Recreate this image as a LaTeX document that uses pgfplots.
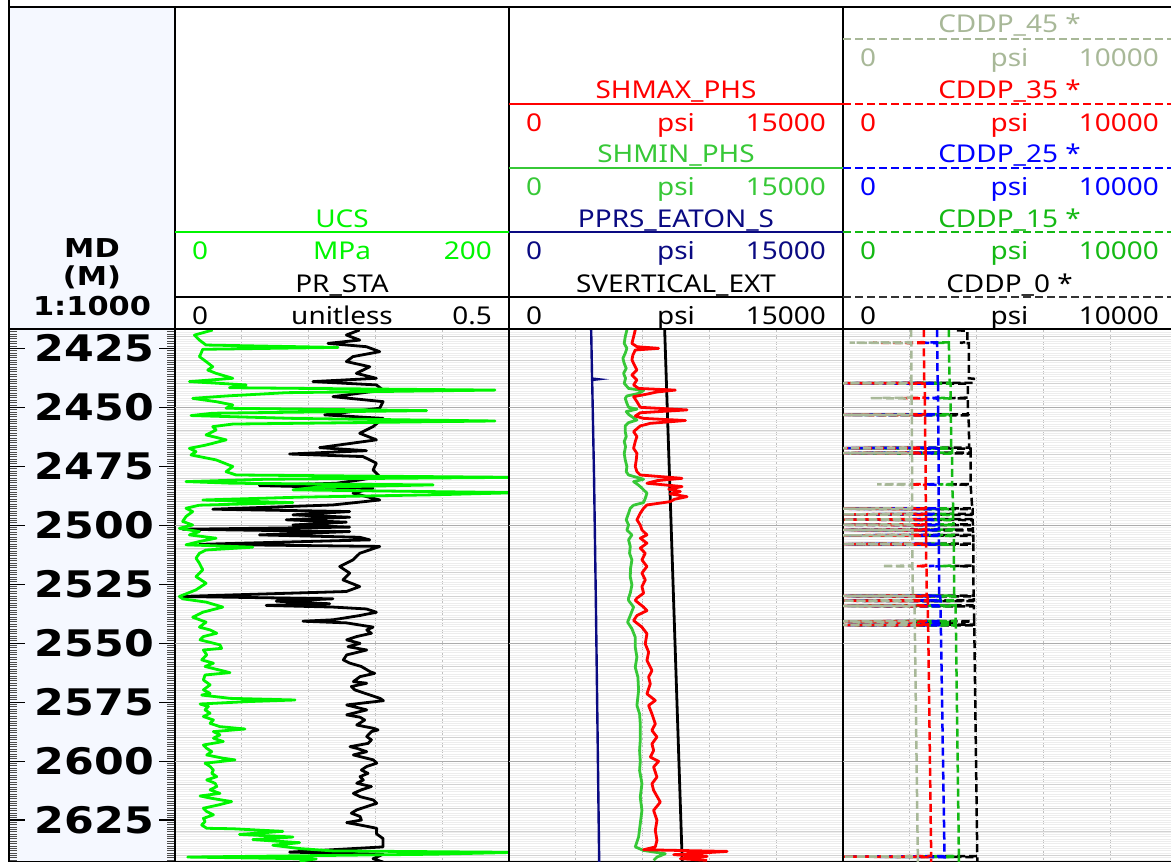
\documentclass[border=0pt]{standalone}
\usepackage{pgfplots}
\pgfplotsset{compat=1.18}
\usepackage{pgfplotstable}
\usepackage{fontspec}
\setmainfont{Noto Sans}[FakeStretch=1.14]
\newfontfamily\depfont{DejaVu Sans}[FakeStretch=1.17]
\definecolor{ucsgreen}{RGB}{0,245,0}
\definecolor{shmingreen}{RGB}{55,200,55}
\definecolor{cddpgreen}{RGB}{20,185,20}
\definecolor{sage}{RGB}{168,184,152}
\definecolor{navyc}{RGB}{10,10,130}
\definecolor{depthbg}{RGB}{245,248,255}
\newcommand\hfont{\fontsize{24.5}{28}\selectfont}

\pgfplotstableread{
d v
2417.2 0.2765
2419.35 0.2565
2421.5 0.2765
2422.9 0.229
2424.3 0.2865
2426.4 0.3065
2428.5 0.2665
2430.6 0.2565
2432.8 0.2915
2435.6 0.2715
2437.7 0.3015
2439.1 0.2065
2440.5 0.3015
2442.7 0.3115
2445.5 0.2365
2447.6 0.3115
2450.4 0.3065
2453.2 0.224
2454.7 0.3115
2458.2 0.2965
2461.0 0.2765
2463.8 0.3015
2467.1 0.2165
2468.4 0.2865
2469.8 0.1715
2470.9 0.2815
2473.7 0.3015
2476.6 0.2965
2479.4 0.3065
2480.8 0.2765
2482.2 0.2415
2483.2 0.1265
2484.3 0.2965
2486.4 0.2665
2489.3 0.3065
2491.4 0.2365
2493.2 0.0565
2494.2 0.2615
2495.6 0.1765
2496.6 0.2615
2497.7 0.1665
2498.7 0.2565
2499.9 0.1765
2500.8 0.2615
2501.7 0.0115
2502.7 0.2615
2504.1 0.1265
2505.1 0.2765
2506.2 0.2915
2508.1 0.0365
2509.0 0.3065
2511.9 0.2765
2514.7 0.2665
2517.5 0.2465
2520.3 0.2615
2523.2 0.2515
2526.0 0.2765
2528.1 0.2565
2530.2 0.009
2531.2 0.2365
2532.2 0.1515
2533.3 0.2315
2534.0 0.1365
2534.7 0.2365
2535.5 0.2865
2536.9 0.3015
2538.3 0.2765
2540.1 0.2365
2540.7 0.1915
2541.4 0.2565
2543.2 0.2965
2544.4 0.287
2545.8 0.294
2547.2 0.272
2548.6 0.257
2550.1 0.277
2551.5 0.259
2552.9 0.287
2555.0 0.257
2557.1 0.252
2558.5 0.262
2559.9 0.279
2562.1 0.292
2562.8 0.299
2564.2 0.277
2566.3 0.267
2567.0 0.287
2568.4 0.264
2569.8 0.269
2572.0 0.292
2573.4 0.307
2574.4 0.312
2575.2 0.287
2576.2 0.257
2576.9 0.267
2578.3 0.287
2579.7 0.267
2580.4 0.257
2581.4 0.277
2582.6 0.284
2584.7 0.272
2586.1 0.297
2586.8 0.304
2587.5 0.294
2589.6 0.287
2591.0 0.294
2592.5 0.289
2593.9 0.262
2594.6 0.272
2596.0 0.287
2597.4 0.267
2598.1 0.277
2599.5 0.297
2600.9 0.302
2602.3 0.287
2603.8 0.279
2605.2 0.289
2606.6 0.277
2608.0 0.282
2609.4 0.272
2610.8 0.294
2612.2 0.279
2613.7 0.267
2615.1 0.277
2616.5 0.297
2617.9 0.302
2619.3 0.287
2620.7 0.272
2622.1 0.264
2623.5 0.277
2625.0 0.279
2626.1 0.257
2627.1 0.277
2628.5 0.302
2630.8 0.3015
2632.9 0.3115
2636.4 0.3115
2638.6 0.1715
2639.5 0.3115
2641.4 0.2965
2642.8 0.3115
}\prtable

\pgfplotstableread{
d v
2417.2 22.6
2419.4 11.6
2421.5 14.6
2423.6 18.6
2424.6 97.6
2425.4 16.6
2427.1 15.6
2428.5 14.6
2430.6 18.6
2432.8 22.6
2434.2 19.6
2435.6 24.6
2437.7 34.6
2439.1 8.6
2440.5 42.6
2441.7 32.6
2442.7 191.6
2443.8 66.6
2445.2 30.6
2446.2 10.6
2447.6 24.6
2449.0 34.6
2450.4 30.6
2451.4 150.6
2452.5 22.6
2453.5 9.6
2454.7 70.6
2455.8 191.6
2457.1 34.6
2458.2 22.6
2459.6 24.6
2461.7 18.6
2463.8 30.6
2466.0 18.6
2467.4 8.6
2468.8 12.6
2470.2 9.6
2472.3 24.6
2475.1 34.6
2477.3 30.6
2478.7 36.6
2479.7 205
2480.5 54.6
2481.5 6.6
2482.2 34.6
2482.9 154.6
2483.9 84.6
2485.0 70.6
2486.2 205
2487.1 154.6
2488.1 74.6
2489.3 16.6
2490.4 70.6
2491.5 14.6
2492.8 6.6
2494.2 10.6
2496.3 6.6
2498.4 4.6
2499.9 10.6
2501.3 2.6
2502.7 14.6
2504.1 8.6
2505.5 24.6
2506.9 14.6
2508.3 6.6
2509.3 46.6
2510.5 18.6
2511.9 14.6
2514.0 12.6
2516.1 14.6
2518.9 16.6
2521.8 12.6
2524.6 18.6
2527.4 12.6
2529.1 6.6
2530.2 2.6
2531.2 4.6
2532.6 18.6
2534.7 28.6
2536.9 16.6
2539.0 10.6
2541.1 18.6
2543.2 14.6
2544.4 21.0
2545.8 25.0
2547.2 17.0
2548.6 15.0
2550.7 26.9
2552.2 27.9
2552.9 17.0
2555.0 19.0
2557.1 16.0
2558.5 23.0
2559.9 18.0
2562.5 32.9
2563.5 18.0
2565.6 17.0
2567.7 21.0
2569.8 17.0
2571.3 21.0
2572.0 16.0
2573.4 32.9
2574.1 71.9
2574.8 42.9
2575.8 15.0
2576.9 20.0
2578.3 18.0
2579.7 21.0
2581.1 17.0
2582.6 23.0
2584.0 21.0
2585.4 26.9
2586.4 41.9
2587.5 23.0
2588.9 26.9
2590.3 23.0
2591.7 28.9
2593.2 17.0
2594.6 19.0
2596.0 22.0
2597.4 19.0
2598.8 28.9
2599.5 35.9
2600.9 18.0
2602.3 21.0
2603.8 23.0
2605.2 22.0
2606.6 25.0
2608.0 19.0
2609.4 24.0
2610.8 25.0
2612.2 21.0
2613.7 26.9
2614.8 15.0
2615.8 22.0
2617.2 33.9
2618.6 26.0
2620.0 17.0
2621.4 19.0
2622.8 23.0
2624.3 17.0
2625.7 18.0
2627.1 16.0
2628.5 19.0
2628.7 34.6
2629.8 64.6
2631.1 38.6
2632.2 70.6
2633.3 46.6
2634.6 74.6
2635.7 58.6
2637.1 74.6
2638.1 94.6
2638.7 205
2639.5 154.6
2640.7 7.6
2641.5 84.6
2642.4 74.6
}\ucstable

\pgfplotstableread{
d v
2416.8 3690
2437.8 3730
2438.1 4010
2438.4 3735
2480.0 3820
2531.6 3900
2590.0 3980
2642.8 4050
}\pprstable

\pgfplotstableread{
d v
2416.8 6990
2642.8 7780
}\svtable

\pgfplotstableread{
d v
2417.2 5295
2420.1 5220
2422.9 5175
2425.0 5295
2427.1 5220
2429.2 5115
2431.4 5175
2433.5 5265
2435.6 5145
2437.7 5235
2439.8 5175
2442.0 5370
2442.9 6045
2444.1 5820
2445.2 5295
2446.2 5220
2448.3 5295
2450.0 5370
2450.8 5745
2451.8 5265
2453.0 5370
2454.0 5520
2455.4 5745
2456.5 5370
2457.9 5220
2460.3 5220
2462.4 5265
2464.5 5175
2466.7 5235
2469.5 5175
2472.3 5220
2475.1 5295
2477.3 5265
2478.7 5370
2480.5 6045
2481.5 5595
2482.5 5745
2483.6 5895
2485.0 6045
2486.4 6195
2488.6 6120
2490.4 6045
2491.5 5595
2492.8 5445
2494.9 5370
2497.7 5265
2499.9 5370
2502.0 5295
2504.1 5520
2506.2 5370
2509.0 5445
2511.9 5415
2514.7 5520
2518.2 5460
2521.8 5445
2525.3 5520
2528.8 5445
2530.9 5370
2531.9 5370
2534.7 5595
2538.3 5445
2541.1 5325
2543.9 5520
2547.5 5670
2551.7 5670
2555.9 5745
2560.2 5670
2564.4 5790
2570.1 5820
2576.4 5745
2580.0 5865
2584.2 5895
2591.2 5895
2595.5 5865
2600.1 5895
2604.0 5865
2609.6 5970
2615.3 5895
2620.9 5970
2626.6 5895
2632.2 5820
2636.4 5670
2637.9 6045
2639.3 7020
2640.7 6645
2642.1 6495
}\shmintable

\pgfplotstableread{
d v
2417.2 5670
2420.1 5595
2422.9 5520
2424.3 5745
2425.0 6720
2425.7 5670
2427.8 5565
2429.9 5520
2432.8 5670
2434.2 5745
2436.3 5520
2438.4 5745
2440.5 5595
2442.0 5820
2442.7 7470
2443.5 6645
2444.4 6195
2445.5 5595
2447.6 5745
2450.0 5895
2451.1 7995
2452.3 5895
2453.7 5670
2454.7 6045
2455.6 7920
2456.8 6345
2457.9 5895
2460.3 5595
2462.4 5745
2464.5 5670
2467.4 5595
2469.5 5745
2472.3 5715
2475.1 5670
2477.3 5745
2478.7 5895
2480.1 7770
2481.1 6645
2482.2 6195
2483.6 7770
2484.7 7170
2485.7 7695
2486.7 7245
2487.9 7995
2489.0 7425
2490.0 7245
2491.4 6195
2492.8 6045
2494.9 5895
2497.7 5745
2499.9 5895
2502.0 5970
2504.1 6195
2505.5 5895
2507.6 6195
2509.7 5895
2511.9 6120
2514.7 5970
2517.5 6195
2520.3 5970
2523.2 6120
2526.0 5970
2528.8 6045
2530.9 5745
2531.9 5670
2534.7 6045
2536.2 6195
2538.3 5745
2540.4 5595
2543.2 5970
2546.0 6195
2550.3 6120
2553.8 6270
2557.3 6195
2561.6 6420
2564.4 6270
2567.2 6345
2571.5 6195
2574.3 6570
2576.4 6270
2580.0 6420
2584.2 6570
2587.0 6420
2589.8 6645
2592.7 6420
2595.5 6495
2598.3 6345
2600.1 6720
2602.5 6495
2606.8 6645
2609.6 6420
2612.4 6495
2617.4 6795
2620.9 6495
2625.1 6645
2629.4 6570
2633.6 6645
2636.4 6570
2637.6 6045
2638.3 9795
2639.0 8595
2639.7 7395
2640.4 8895
2641.4 7695
2642.1 8895
}\shmaxtable

\pgfplotstableread{
d c45 c35 c25 c15 c0
2416.8 2040 2420 2820 3170 3450
2417.4 2040 2420 2820 3170 3450
2417.5 2040 2420 2820 3170 3720
2422.4 2045 2420 2820 3170 3720
2422.6 200 900 2420 2820 3500
2422.8 2045 2420 2820 3170 3770
2437.7 2050 2430 2830 3190 3770
2437.9 2050 2430 2830 3190 3920
2439.6 2050 2440 2840 3200 3920
2439.8 0 30 80 150 250
2440.0 2055 2450 2850 3220 3740
2445.9 2055 2450 2850 3220 3740
2446.1 820 1800 2450 2850 3220
2446.3 2055 2450 2850 3220 3740
2453.0 2060 2450 2850 3220 3740
2453.2 0 30 80 150 250
2453.4 2060 2455 2850 3230 3760
2467.1 2060 2460 2855 3240 3780
2467.3 0 30 80 150 250
2467.5 2065 2470 2860 3270 3820
2469.2 2065 2470 2860 3270 3820
2469.4 0 30 80 150 250
2469.6 2065 2470 2860 3270 3820
2482.5 2070 2475 2860 3270 3820
2482.7 1020 2000 2470 2860 3270
2482.9 2070 2475 2860 3270 3820
2492.8 2070 2480 2865 3300 3870
2493.0 0 30 80 150 250
2493.2 2070 2485 2865 3300 3880
2495.2 2070 2485 2865 3300 3880
2495.4 0 30 80 150 250
2495.6 2070 2485 2865 3300 3880
2497.4 2070 2485 2865 3300 3880
2497.6 0 30 80 150 250
2497.8 2070 2485 2865 3300 3880
2499.6 2075 2490 2870 3310 3890
2499.8 0 30 80 150 250
2500.0 2075 2490 2870 3310 3890
2501.8 2075 2490 2870 3310 3890
2502.0 0 30 80 150 250
2502.2 2075 2490 2870 3310 3890
2504.1 2075 2490 2870 3320 3900
2504.3 0 30 80 150 250
2504.5 2075 2490 2870 3320 3900
2507.8 2080 2490 2870 3320 3900
2508.0 0 30 80 150 250
2508.2 2080 2490 2870 3320 3900
2517.1 2080 2490 2870 3320 3900
2517.3 1170 2200 2570 2870 3320
2517.5 2080 2500 2880 3330 3900
2529.8 2090 2500 2880 3330 3910
2530.0 0 30 80 150 250
2530.2 2130 2530 2910 3360 3910
2531.8 2140 2540 2920 3370 3920
2532.0 0 30 80 150 250
2532.2 2140 2540 2920 3370 3920
2534.0 2140 2540 2920 3370 3920
2534.2 0 30 80 150 250
2534.4 2140 2540 2920 3370 3920
2540.6 2150 2545 2925 3375 3925
2540.8 0 30 80 150 250
2541.0 2150 2545 2925 3375 3925
2542.1 2150 2545 2925 3375 3925
2542.3 0 30 80 150 250
2542.5 2150 2550 2930 3380 3930
2640.3 2240 2640 3040 3470 4020
2640.5 0 30 80 150 250
2640.7 2240 2640 3040 3470 4020
2642.8 2240 2640 3040 3470 4020
}\cddptable

\pgfplotsset{
  track/.style={
    scale only axis, width=334pt, height=533pt, anchor=north west,
    y dir=reverse, ymin=2416.8, ymax=2642.8,
    scaled x ticks=false, scaled y ticks=false,
    ytick={2420,2430,...,2640}, minor ytick={2417,2418,...,2642},
    yticklabels={}, xticklabels={},
    major tick length=0pt, minor tick length=0pt,
    ymajorgrids, yminorgrids, xmajorgrids,
    major grid style={gray!35,line width=0.8pt},
    minor grid style={gray!14,line width=0.6pt},
    major x grid style={gray!50,line width=1pt,dash pattern=on 4pt off 2pt},
    extra y ticks={2450,2500,2550,2600},
    extra y tick labels={},
    extra y tick style={major y grid style={gray!65,line width=1.1pt}},
    axis line style={black,line width=1.5pt},
  },
  curve/.style={line width=2.8pt, line join=round},
  cddp/.style={line width=2.5pt, dash pattern=on 8pt off 4pt},
}

\newcommand\scalerow[7]{%
  \node[anchor=base west,inner sep=0,text=#1] at ({#2+17},-#4) {\hfont #5};
  \node[anchor=base,inner sep=0,text=#1] at ({(#2+#3)/2},-#4) {\hfont #6};
  \node[anchor=base east,inner sep=0,text=#1] at ({#3-17},-#4) {\hfont #7};}
\newcommand\htitle[4]{\node[anchor=base,inner sep=0,text=#1] at (#2,-#3) {\hfont #4};}

\begin{document}
\begin{tikzpicture}[x=1pt,y=1pt]
% depth header background
\fill[depthbg] (9,-7) rectangle (175,-329);
% depth track
\begin{axis}[
  at={(9pt,-329pt)}, anchor=north west, scale only axis, width=166pt, height=533pt,
  y dir=reverse, ymin=2416.8, ymax=2642.8, xmin=0, xmax=1,
  xtick=\empty,
  ytick={2425,2450,...,2625},
  yticklabels={2425,2450,2475,2500,2525,2550,2575,2600,2625},
  minor ytick={2417,2418,...,2642},
  ytick pos=both, yticklabel pos=right, tick align=inside,
  major tick length=16pt, minor tick length=8pt,
  major tick style={black,line width=1.1pt},
  minor tick style={black!70,line width=0.9pt},
  yticklabel style={font=\depfont\bfseries\fontsize{36.6}{40}\selectfont, anchor=east, inner sep=0pt, xshift=-21pt},
  axis background/.style={fill=depthbg},
  axis line style={black,line width=1.5pt},
]
\addplot[draw=none] coordinates {(0,2500)};
\end{axis}
% track 1
\begin{axis}[track, at={(175pt,-329pt)}, xmin=0, xmax=0.5, xtick={0.1,0.2,0.3,0.4}]
\addplot[black, curve] table[x=v,y=d] {\prtable};
\end{axis}
\begin{axis}[track, at={(175pt,-329pt)}, xmin=0, xmax=200, hide axis]
\addplot[ucsgreen, curve] table[x=v,y=d] {\ucstable};
\end{axis}
% track 2
\begin{axis}[track, at={(509pt,-329pt)}, xmin=0, xmax=15000, xtick={3000,6000,9000,12000}]
\addplot[black, curve] table[x=v,y=d] {\svtable};
\addplot[navyc, line width=2.4pt] table[x=v,y=d] {\pprstable};
\addplot[shmingreen, curve] table[x=v,y=d] {\shmintable};
\addplot[red, curve] table[x=v,y=d] {\shmaxtable};
\end{axis}
% track 3
\begin{axis}[track, at={(843pt,-329pt)}, xmin=0, xmax=10000, xtick={2000,4000,6000,8000}]
\addplot[black, cddp] table[x=c0,y=d] {\cddptable};
\addplot[cddpgreen, cddp] table[x=c15,y=d] {\cddptable};
\addplot[blue, cddp] table[x=c25,y=d] {\cddptable};
\addplot[red, cddp] table[x=c35,y=d] {\cddptable};
\addplot[sage, cddp] table[x=c45,y=d] {\cddptable};
\end{axis}
% header frame
\draw[black,line width=1.5pt] (9,0) -- (9,-862);
\draw[black,line width=1.5pt] (9,-7) -- (1171,-7);
\draw[black,line width=1.5pt] (9,-329) -- (1171,-329);
\foreach \xx in {175,509,843} \draw[black,line width=1.6pt] (\xx,-7) -- (\xx,-329);
% depth header text
\node[anchor=base,inner sep=0] at (92,-257) {\depfont\bfseries\fontsize{26}{30}\selectfont MD};
\node[anchor=base,inner sep=0] at (92,-285) {\depfont\bfseries\fontsize{26}{30}\selectfont (M)};
\node[anchor=base,inner sep=0] at (92,-315) {\depfont\bfseries\fontsize{26}{30}\selectfont 1:1000};
% track 1 header
\htitle{ucsgreen}{342}{227}{UCS}
\draw[ucsgreen,line width=1.6pt] (175,-232) -- (509,-232);
\scalerow{ucsgreen}{175}{509}{259}{0}{MPa}{200}
\htitle{black}{342}{292}{PR\_STA}
\draw[black,line width=1.5pt] (175,-297) -- (509,-297);
\scalerow{black}{175}{509}{324}{0}{unitless}{0.5}
% track 2 header
\htitle{red}{676}{98}{SHMAX\_PHS}
\draw[red,line width=1.6pt] (509,-104) -- (843,-104);
\scalerow{red}{509}{843}{131}{0}{psi}{15000}
\htitle{shmingreen}{676}{162}{SHMIN\_PHS}
\draw[shmingreen,line width=1.6pt] (509,-168) -- (843,-168);
\scalerow{shmingreen}{509}{843}{195}{0}{psi}{15000}
\htitle{navyc}{676}{227}{PPRS\_EATON\_S}
\draw[navyc,line width=1.6pt] (509,-232) -- (843,-232);
\scalerow{navyc}{509}{843}{259}{0}{psi}{15000}
\htitle{black}{676}{292}{SVERTICAL\_EXT}
\draw[black,line width=1.5pt] (509,-297) -- (843,-297);
\scalerow{black}{509}{843}{324}{0}{psi}{15000}
% track 3 header
\htitle{sage}{1009.5}{32}{CDDP\_45 *}
\draw[sage,line width=1.5pt,dash pattern=on 8pt off 4pt] (843,-39) -- (1171,-39);
\scalerow{sage}{843}{1176}{66}{0}{psi}{10000}
\htitle{red}{1009.5}{98}{CDDP\_35 *}
\draw[red,line width=1.5pt,dash pattern=on 8pt off 4pt] (843,-104) -- (1171,-104);
\scalerow{red}{843}{1176}{131}{0}{psi}{10000}
\htitle{blue}{1009.5}{162}{CDDP\_25 *}
\draw[blue,line width=1.5pt,dash pattern=on 8pt off 4pt] (843,-168) -- (1171,-168);
\scalerow{blue}{843}{1176}{195}{0}{psi}{10000}
\htitle{cddpgreen}{1009.5}{227}{CDDP\_15 *}
\draw[cddpgreen,line width=1.5pt,dash pattern=on 8pt off 4pt] (843,-232) -- (1171,-232);
\scalerow{cddpgreen}{843}{1176}{259}{0}{psi}{10000}
\htitle{black}{1009.5}{292}{CDDP\_0 *}
\draw[black!80,line width=1.5pt,dash pattern=on 8pt off 4pt] (843,-297) -- (1171,-297);
\scalerow{black}{843}{1176}{324}{0}{psi}{10000}
\pgfresetboundingbox
\useasboundingbox (0,0) rectangle (1171,-862);
\end{tikzpicture}
\end{document}
